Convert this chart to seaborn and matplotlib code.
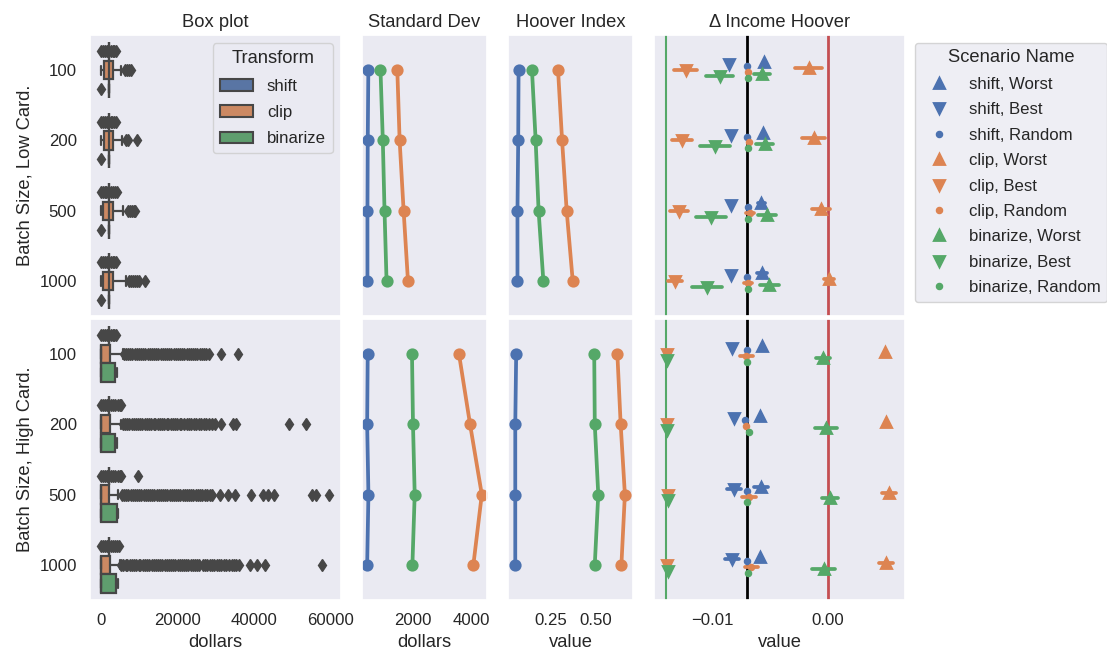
import numpy as np
import pandas as pd
import matplotlib
matplotlib.use("Agg")
import matplotlib.pyplot as plt
from matplotlib.patches import Patch
from matplotlib.lines import Line2D
import seaborn as sns

# ---------------------------------------------------------------- labels
batch_sizes = ["100", "200", "500", "1000"]
transforms = ["shift", "clip", "binarize"]
scenarios = ["Worst", "Best", "Random"]
row_labels = ["Batch Size, Low Card.", "Batch Size, High Card."]
titles = ["Box plot", "Standard Dev", "Hoover Index", "\u0394 Income Hoover"]
xlabels = ["dollars", "dollars", "value", "value"]

# ------------------------------------------- income box summaries (dollars)
# low cardinality
low_q1 = {"shift": [2150, 2150, 2150, 2150], "clip": [800, 800, 500, 600],
          "binarize": [2150, 2150, 2150, 2150]}
low_med = {"shift": [2150, 2150, 2150, 2150], "clip": [2150, 2150, 2150, 2150],
           "binarize": [2150, 2150, 2150, 2150]}
low_q3 = {"shift": [2150, 2150, 2150, 2150], "clip": [3100, 3100, 3100, 3100],
          "binarize": [2150, 2150, 2150, 2150]}
low_whislo = {"shift": [2150, 2150, 2150, 2150], "clip": [0, 0, 0, 0],
              "binarize": [2150, 2150, 2150, 2150]}
low_whishi = {"shift": [2150, 2150, 2150, 2150], "clip": [5200, 5400, 5800, 6400],
              "binarize": [2150, 2150, 2150, 2150]}
low_fliers = {
    "shift": [
        [0, 600, 1100, 1500, 1900, 2600, 3000, 3400, 3800],
        [0, 500, 1000, 1500, 1900, 2500, 2900, 3300, 3800],
        [0, 400, 900, 1400, 1800, 2600, 3100, 3600, 4200],
        [0, 500, 1000, 1500, 1900, 2500, 3000, 3500, 4000],
    ],
    "clip": [
        [6300, 6800, 7300, 7800],
        [6600, 7000, 9400],
        [7000, 7500, 8000, 8500, 8900],
        [7300, 7800, 8300, 8800, 9300, 9800, 11500],
    ],
    "binarize": [[0], [0], [0], [0]],
}

# high cardinality
high_q1 = {"shift": [2100, 2100, 2100, 2100], "clip": [0, 0, 0, 0],
           "binarize": [0, 0, 0, 0]}
high_med = {"shift": [2100, 2100, 2100, 2100], "clip": [0, 0, 0, 0],
            "binarize": [0, 0, 0, 0]}
high_q3 = {"shift": [2100, 2100, 2100, 2100], "clip": [2300, 2300, 2000, 2300],
           "binarize": [3600, 3600, 4200, 3800]}
high_whislo = {"shift": [2100, 2100, 2100, 2100], "clip": [0, 0, 0, 0],
               "binarize": [0, 0, 0, 0]}
high_whishi = {"shift": [2100, 2100, 2100, 2100], "clip": [5700, 5200, 4400, 4900],
               "binarize": [4100, 4100, 4300, 4300]}
high_fliers = {
    "shift": [
        [0, 500, 1000, 1500, 1800, 2500, 3000, 3500, 4000],
        [0, 500, 1000, 1500, 1800, 2500, 3100, 3700, 4300, 4900, 5200],
        [0, 500, 1000, 1500, 1800, 2500, 3100, 3700, 4300, 4900, 5300, 9600],
        [0, 500, 1000, 1500, 1800, 2500, 3000, 3600, 4100, 4600],
    ],
    "clip": [
        [6000, 6500, 7100, 7600, 8200, 8800, 9300, 9900, 10500, 11000, 11600,
         12200, 12700, 13300, 13900, 14400, 15000, 15600, 16100, 16700, 17300,
         17800, 18400, 19000, 19500, 20100, 20700, 21200, 21800, 22400, 22900,
         23500, 24000, 24500, 25100, 25800, 26300, 26900, 27500, 28300,
         31300, 35700],
        [5800, 6300, 6900, 7400, 8000, 8600, 9100, 9700, 10300, 10800, 11400,
         12000, 12500, 13100, 13700, 14200, 14800, 15400, 15900, 16500, 17100,
         17600, 18200, 18800, 19300, 19900, 20500, 21000, 21600, 22400, 23000,
         23600, 24300, 24900, 25500, 26200, 26800, 27500, 28200, 29000, 29700,
         31300, 34600, 35200, 49100, 53600],
        [5500, 6000, 6600, 7100, 7700, 8300, 8800, 9400, 10000, 10500, 11100,
         11700, 12200, 12800, 13400, 13900, 14500, 15100, 15600, 16200, 16800,
         17300, 17900, 18500, 19000, 19600, 20200, 20700, 21300, 21900, 22400,
         23000, 23600, 24100, 24700, 25300, 25800, 26400, 27100, 27700, 28400,
         29100, 31200, 33300, 35000, 39100, 42400, 43500, 45200, 55100, 56200,
         59700],
        [5300, 5800, 6400, 6900, 7500, 8100, 8600, 9200, 9800, 10300, 10900,
         11500, 12000, 12600, 13200, 13700, 14300, 14900, 15400, 16000, 16600,
         17100, 17700, 18300, 18800, 19400, 20000, 20500, 21100, 21700, 22200,
         22800, 23400, 23900, 24500, 25100, 25700, 26600, 27200, 27800, 28400,
         29000, 29600, 30200, 30800, 31400, 32000, 32600, 33400, 34100, 34700,
         35300, 36000, 38800, 40700, 42900, 57800],
    ],
    "binarize": [[], [], [], []],
}

# --------------------------------------------- standard deviation (dollars)
std_low = {"shift": [480, 460, 450, 450], "clip": [1466, 1545, 1681, 1829],
           "binarize": [894, 973, 1031, 1100]}
std_high = {"shift": [459, 440, 483, 440], "clip": [3565, 3942, 4342, 4055],
            "binarize": [1966, 2000, 2058, 1980]}
std_low_err = {"shift": [0, 0, 0, 0], "clip": [0, 0, 0, 0], "binarize": [0, 0, 0, 0]}
std_high_err = {"shift": [0, 0, 0, 0], "clip": [0, 0, 0, 0], "binarize": [0, 0, 0, 0]}

# ------------------------------------------------------------ hoover index
hoover_low = {"shift": [0.077, 0.075, 0.071, 0.071], "clip": [0.292, 0.314, 0.339, 0.372],
              "binarize": [0.150, 0.170, 0.186, 0.212]}
hoover_high = {"shift": [0.064, 0.059, 0.059, 0.059], "clip": [0.615, 0.633, 0.656, 0.637],
               "binarize": [0.489, 0.492, 0.511, 0.492]}
hoover_low_err = {"shift": [0, 0, 0, 0], "clip": [0, 0, 0, 0],
                  "binarize": [0.004, 0.005, 0.0045, 0.0045]}
hoover_high_err = {"shift": [0, 0, 0, 0], "clip": [0, 0, 0, 0], "binarize": [0, 0, 0, 0]}

# ------------------------------------------------ change in income hoover
delta_low = {
    "shift, Worst": [-0.00555, -0.00564, -0.00575, -0.00569],
    "shift, Best": [-0.00853, -0.00842, -0.00836, -0.00834],
    "shift, Random": [-0.00698, -0.00698, -0.00695, -0.00698],
    "clip, Worst": [-0.00167, -0.00124, -0.00058, 0.0001],
    "clip, Best": [-0.0123, -0.01259, -0.01288, -0.01322],
    "clip, Random": [-0.0069, -0.00678, -0.0067, -0.00693],
    "binarize, Worst": [-0.00569, -0.00546, -0.00526, -0.00506],
    "binarize, Best": [-0.00937, -0.00977, -0.01009, -0.01049],
    "binarize, Random": [-0.0069, -0.0069, -0.0069, -0.0069],
}
delta_low_err = {
    "shift, Worst": [0, 0, 0.0003, 0.0004],
    "shift, Best": [0, 0, 0, 0],
    "shift, Random": [0, 0, 0, 0],
    "clip, Worst": [0.00115, 0.001, 0.0008, 0.0004],
    "clip, Best": [0.001, 0.00086, 0.00078, 0.0006],
    "clip, Random": [0, 0, 0.00035, 0.00035],
    "binarize, Worst": [0.0007, 0.00075, 0.0008, 0.0008],
    "binarize, Best": [0.0012, 0.0013, 0.0013, 0.0013],
    "binarize, Random": [0, 0, 0, 0],
}
delta_high = {
    "shift, Worst": [-0.00566, -0.00584, -0.00575, -0.00584],
    "shift, Best": [-0.00828, -0.00814, -0.00814, -0.00828],
    "shift, Random": [-0.00698, -0.00713, -0.00698, -0.00698],
    "clip, Worst": [0.00494, 0.00503, 0.00531, 0.00503],
    "clip, Best": [-0.01388, -0.0139, -0.01385, -0.01388],
    "clip, Random": [-0.00704, -0.00704, -0.00684, -0.00661],
    "binarize, Worst": [-0.00043, -0.00017, 0.0002, -0.00038],
    "binarize, Best": [-0.01388, -0.01388, -0.01385, -0.01385],
    "binarize, Random": [-0.00698, -0.00684, -0.00698, -0.00693],
}
delta_high_err = {
    "shift, Worst": [0, 0, 0.0006, 0],
    "shift, Best": [0, 0, 0.0006, 0.0006],
    "shift, Random": [0, 0, 0, 0],
    "clip, Worst": [0, 0, 0.0006, 0.0006],
    "clip, Best": [0, 0, 0, 0],
    "clip, Random": [0.0006, 0, 0.0006, 0.0006],
    "binarize, Worst": [0.0006, 0.00095, 0.0007, 0.001],
    "binarize, Best": [0, 0, 0, 0],
    "binarize, Random": [0, 0, 0, 0],
}

# reference lines on the change panel
ref_values = [-0.0140, -0.0070, 0.0]
ref_colors = ["#55A868", "black", "#C44E52"]
ref_widths = [1.5, 2.0, 2.0]

# axis ranges per column
col_xlims = [(-2900, 62700), (253, 4524), (0.0186, 0.702), (-0.01503, 0.00666)]

# ---------------------------------------------------------------- styling
sns.set_theme(context="notebook", style="dark", font_scale=1.1)
plt.rcParams["font.family"] = ["Liberation Sans", "DejaVu Sans"]

deep = sns.color_palette("deep")
tcolors = {"shift": deep[0], "clip": deep[1], "binarize": deep[2]}
box_colors = {t: sns.desaturate(c, 0.75) for t, c in tcolors.items()}
gray = "#474747"
scenario_labels = [f"{t}, {s}" for t in transforms for s in scenarios]
scenario_palette = [tcolors[t] for t in transforms for _ in scenarios]
scenario_markers = ["^", "v", "."] * len(transforms)

fig, axes = plt.subplots(
    2, 4, figsize=(11.07, 6.6), dpi=100, sharex="col",
    gridspec_kw=dict(width_ratios=[2, 1, 1, 2], left=90 / 1107, right=905 / 1107,
                     top=1 - 35 / 660, bottom=1 - 600 / 660, wspace=0.11, hspace=0.009),
)

# ------------------------------------------------------------- box plots
box_rows = [
    dict(q1=low_q1, med=low_med, q3=low_q3, whislo=low_whislo, whishi=low_whishi, fliers=low_fliers),
    dict(q1=high_q1, med=high_med, q3=high_q3, whislo=high_whislo, whishi=high_whishi, fliers=high_fliers),
]
box_w = 0.8 / len(transforms)
for r, summ in enumerate(box_rows):
    ax = axes[r, 0]
    for i, b in enumerate(batch_sizes):
        for j, t in enumerate(transforms):
            stats = dict(q1=summ["q1"][t][i], med=summ["med"][t][i], q3=summ["q3"][t][i],
                         whislo=summ["whislo"][t][i], whishi=summ["whishi"][t][i],
                         fliers=np.asarray(summ["fliers"][t][i], dtype=float))
            ax.bxp([stats], positions=[i + (j - 1) * box_w], widths=[box_w * 0.98],
                   orientation="horizontal", patch_artist=True, manage_ticks=False,
                   boxprops=dict(facecolor=box_colors[t], edgecolor=gray, linewidth=1.6),
                   medianprops=dict(color=gray, linewidth=1.6),
                   whiskerprops=dict(color=gray, linewidth=1.6),
                   capprops=dict(color=gray, linewidth=1.6),
                   flierprops=dict(marker="d", markerfacecolor=gray, markeredgecolor=gray,
                                   markersize=6, linestyle="none"))
    ax.set_ylim(len(batch_sizes) - 0.5, -0.5)
    ax.set_yticks(range(len(batch_sizes)), batch_sizes)
    ax.set_ylabel(row_labels[r])

axes[0, 0].legend(
    handles=[Patch(facecolor=box_colors[t], edgecolor=gray, linewidth=1.5, label=t) for t in transforms],
    title="Transform", loc="upper right", labelspacing=0.68,
)


def long_form(values, errors, key, levels):
    recs = []
    for lvl in levels:
        for b, c, e in zip(batch_sizes, values[lvl], errors[lvl]):
            recs.append({"Batch Size": b, key: lvl, "value": c - e})
            recs.append({"Batch Size": b, key: lvl, "value": c + e})
    return pd.DataFrame(recs)


# ------------------------------------------------ std dev & hoover index
line_panels = [
    (1, [std_low, std_high], [std_low_err, std_high_err]),
    (2, [hoover_low, hoover_high], [hoover_low_err, hoover_high_err]),
]
for c, vals, errs in line_panels:
    for r in range(2):
        df = long_form(vals[r], errs[r], "Transform", transforms)
        sns.pointplot(data=df, x="value", y="Batch Size", hue="Transform",
                      order=batch_sizes, hue_order=transforms,
                      palette=[tcolors[t] for t in transforms],
                      errorbar=("pi", 100), orient="y", legend=False, ax=axes[r, c])

# ------------------------------------------------------- change panel
for r, (vals, errs) in enumerate([(delta_low, delta_low_err), (delta_high, delta_high_err)]):
    ax = axes[r, 3]
    for v, col, lw in zip(ref_values, ref_colors, ref_widths):
        ax.axvline(v, color=col, linewidth=lw, zorder=1)
    df = long_form(vals, errs, "Scenario Name", scenario_labels)
    sns.pointplot(data=df, x="value", y="Batch Size", hue="Scenario Name",
                  order=batch_sizes, hue_order=scenario_labels,
                  palette=scenario_palette, markers=scenario_markers,
                  linestyles="none", dodge=True, errorbar=("pi", 100),
                  orient="y", legend=False, ax=ax)

lw_pt = plt.rcParams["lines.linewidth"] * 1.8
scenario_handles = [
    Line2D([], [], color=col, marker=m, linestyle="none",
           markersize=lw_pt * np.sqrt(2 * np.pi), markeredgewidth=lw_pt * 0.75, label=lab)
    for lab, col, m in zip(scenario_labels, scenario_palette, scenario_markers)
]
axes[0, 3].legend(handles=scenario_handles, title="Scenario Name", loc="upper left",
                  bbox_to_anchor=(915 / 1107, 1 - 42.7 / 660), labelspacing=0.62,
                  bbox_transform=fig.transFigure, borderaxespad=0)

# ------------------------------------------------------------ axes text
for c in range(4):
    axes[0, c].set_xlim(*col_xlims[c])
    axes[0, c].set_title(titles[c])
    axes[0, c].set_xlabel("")
    axes[1, c].set_xlabel(xlabels[c])
    for r in range(2):
        axes[r, c].set_ylim(len(batch_sizes) - 0.5, -0.5)
        if c > 0:
            axes[r, c].set_ylabel("")
            axes[r, c].tick_params(labelleft=False)

axes[0, 0].set_xticks([0, 20000, 40000, 60000])
axes[0, 1].set_xticks([2000, 4000])
axes[0, 2].set_xticks([0.25, 0.50])
axes[0, 3].set_xticks([-0.01, 0.0])
axes[0, 3].xaxis.set_major_formatter(plt.FuncFormatter(lambda v, p: f"{v:.2f}".replace("-", "\u2212")))
axes[0, 2].xaxis.set_major_formatter(plt.FuncFormatter(lambda v, p: f"{v:.2f}"))

fig.savefig("out.png", dpi=100)
